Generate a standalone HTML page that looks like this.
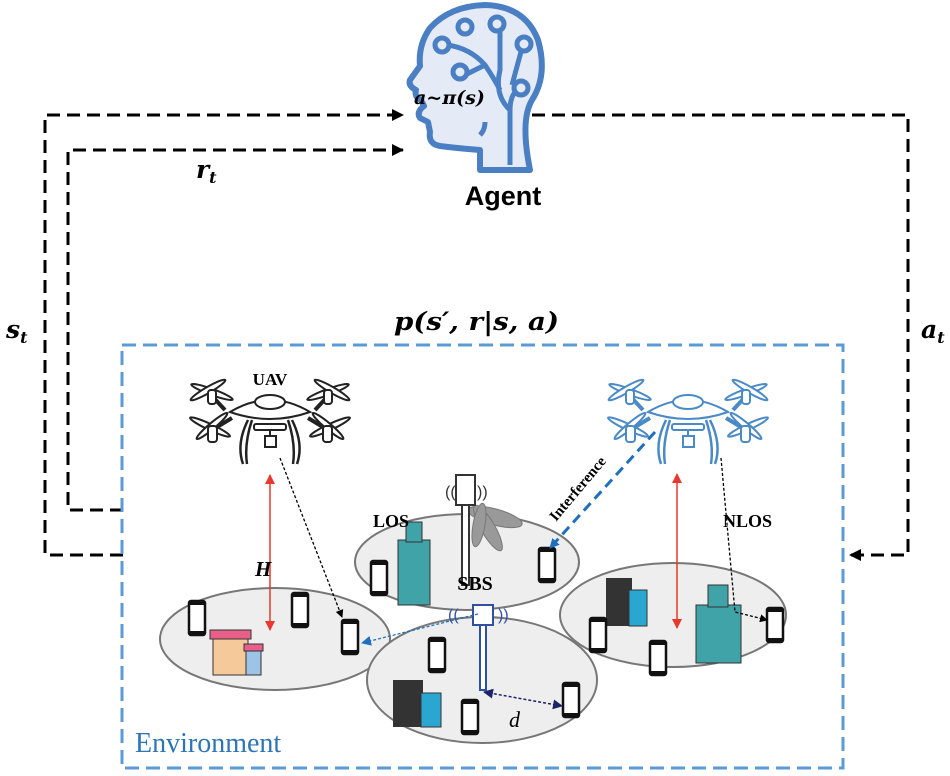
<!DOCTYPE html>
<html><head><meta charset="utf-8"><style>
body{margin:0;background:#fff;width:950px;height:776px;overflow:hidden}
svg{display:block}
.b{font-family:"Liberation Serif",serif;font-weight:bold}
.m{font-family:"DejaVu Serif","Liberation Serif",serif;font-style:italic;font-weight:bold}
</style></head><body>
<svg width="950" height="776" viewBox="0 0 950 776">
<defs>
<marker id="ak" markerWidth="8" markerHeight="8" refX="7" refY="4" orient="auto" markerUnits="userSpaceOnUse"><path d="M0,0 L8,4 L0,8z" fill="#000"/></marker>
<marker id="ak2" markerWidth="12" markerHeight="12" refX="11" refY="6" orient="auto" markerUnits="userSpaceOnUse"><path d="M0,0 L12,6 L0,12z" fill="#000"/></marker>
<marker id="ar" markerWidth="10" markerHeight="10" refX="9" refY="5" orient="auto-start-reverse" markerUnits="userSpaceOnUse"><path d="M0,0 L10,5 L0,10z" fill="#e8392c"/></marker>
<marker id="ab" markerWidth="10" markerHeight="10" refX="9" refY="5" orient="auto" markerUnits="userSpaceOnUse"><path d="M0,0 L10,5 L0,10z" fill="#1f6fbf"/></marker>
<marker id="an" markerWidth="10" markerHeight="10" refX="9" refY="5" orient="auto-start-reverse" markerUnits="userSpaceOnUse"><path d="M0,0 L10,5 L0,10z" fill="#1c2466"/></marker>
<g id="ph"><rect x="-8" y="-17" width="16" height="34" rx="2" fill="#fff" stroke="#111" stroke-width="2.5"/><rect x="-8" y="-17" width="16" height="4" fill="#111"/><rect x="-8" y="13" width="16" height="4" fill="#111"/></g>
<g id="drone" fill="#fff" stroke-width="2">
<path d="M-45,-2 L-58,-16 M45,-2 L58,-16 M-38,6 L-58,18 M38,6 L58,18" fill="none" stroke-width="4"/>
<path d="M-40,0 Q0,-24 40,0 Q0,14 -40,0z"/>
<ellipse cx="0" cy="-10" rx="15" ry="7"/>
<ellipse cx="-58" cy="-20" rx="22" ry="3" transform="rotate(20 -58 -20)"/><ellipse cx="58" cy="-20" rx="22" ry="3" transform="rotate(-20 58 -20)"/>
<ellipse cx="-62" cy="-22" rx="20" ry="3" transform="rotate(-30 -62 -22)"/><ellipse cx="62" cy="-22" rx="20" ry="3" transform="rotate(30 62 -22)"/>
<ellipse cx="-60" cy="15" rx="22" ry="3" transform="rotate(25 -60 15)"/><ellipse cx="60" cy="15" rx="22" ry="3" transform="rotate(-25 60 15)"/>
<ellipse cx="-58" cy="14" rx="20" ry="3" transform="rotate(-40 -58 14)"/><ellipse cx="58" cy="14" rx="20" ry="3" transform="rotate(40 58 14)"/>
<rect x="-62" y="-22" width="8" height="14" rx="3"/><rect x="54" y="-22" width="8" height="14" rx="3"/>
<rect x="-62" y="14" width="9" height="16" rx="3"/><rect x="53" y="14" width="9" height="16" rx="3"/>
<path d="M-22,8 Q-34,32 -27,52 M-18,8 Q-26,32 -23,52 M22,8 Q34,32 27,52 M18,8 Q26,32 23,52" fill="none" stroke-width="2.5"/>
<rect x="-16" y="12" width="32" height="6" rx="2"/>
<rect x="-5" y="24" width="11" height="11"/><line x1="0" y1="18" x2="0" y2="24"/></g>
</defs>

<g stroke="#000" stroke-width="3" fill="none" stroke-dasharray="13 7">
<path d="M123,555 H45 V115 H403" marker-end="url(#ak2)"/>
<path d="M123,510 H68 V150 H403" marker-end="url(#ak2)"/>
<path d="M532,115 H908 V555 H850" marker-end="url(#ak2)"/>
</g>

<!-- head -->
<g stroke="#4a7fc4" stroke-width="6" fill="#e4ebf7" stroke-linejoin="round">
<path d="M480,170 L480,150 Q455,148 440,146 Q428,144 430,132 L428,122 L420,118 Q416,112 424,106 L421,100 Q414,97 416,90 Q408,86 410,80 L420,66 Q418,45 430,28 Q450,6 485,5 Q525,6 538,40 Q548,75 532,100 Q520,120 530,170 Z"/>
</g>
<g stroke="#4a7fc4" stroke-width="5" fill="none">
<path d="M510,165 L510,110 Q510,92 522,87 M510,110 Q494,95 500,70 L500,30 M447,45 Q470,48 485,65 Q495,80 500,90 M465,75 L485,65 M522,48 L512,85"/>
<path d="M480,135 Q485,130 485,122"/>
</g>
<g stroke="#4a7fc4" stroke-width="5" fill="#e4ebf7">
<circle cx="442" cy="45" r="7"/><circle cx="465" cy="27" r="7"/><circle cx="497" cy="24" r="7"/><circle cx="524" cy="44" r="7"/><circle cx="460" cy="72" r="7"/><circle cx="521" cy="88" r="7"/>
</g>
<text x="414" y="104" class="m" font-size="19">a~π(s)</text>
<text x="503" y="205" text-anchor="middle" font-family="Liberation Sans,sans-serif" font-weight="bold" font-size="27">Agent</text>

<g class="m" font-size="25">
<text x="6" y="338">s<tspan font-size="16" dy="5">t</tspan></text>
<text x="196" y="178">r<tspan font-size="16" dy="5">t</tspan></text>
<text x="921" y="338">a<tspan font-size="16" dy="5">t</tspan></text>
<text x="394" y="330" textLength="165" lengthAdjust="spacingAndGlyphs">p(s′, r|s, a)</text>
</g>

<rect x="122" y="345" width="721" height="423" fill="none" stroke="#5b9bd5" stroke-width="3" stroke-dasharray="14 7"/>
<text x="135" y="752" font-family="Liberation Serif,serif" font-size="28" fill="#2e75b6">Environment</text>

<g fill="#eeeeee" stroke="#777" stroke-width="2">
<ellipse cx="275" cy="639" rx="115" ry="51"/>
<ellipse cx="467" cy="562" rx="112" ry="48"/>
<ellipse cx="482" cy="680" rx="115" ry="63"/>
<ellipse cx="673" cy="615" rx="113" ry="52"/>
</g>

<g>
<rect x="213" y="638" width="35" height="37" fill="#f5c99a" stroke="#333"/><rect x="210" y="630" width="41" height="9" fill="#e8608a" stroke="#333"/>
<rect x="246" y="650" width="15" height="25" fill="#9dc3e6" stroke="#333"/><rect x="244" y="644" width="19" height="7" fill="#e8608a" stroke="#333"/>
<rect x="398" y="540" width="32" height="65" fill="#3fa3a8" stroke="#333"/><rect x="406" y="522" width="16" height="20" fill="#3fa3a8" stroke="#333"/>
<rect x="393" y="680" width="30" height="47" fill="#333"/><rect x="421" y="693" width="20" height="34" fill="#2aa7d0" stroke="#333"/>
<rect x="606" y="578" width="26" height="48" fill="#333"/><rect x="629" y="590" width="18" height="36" fill="#2aa7d0" stroke="#333"/>
<rect x="696" y="605" width="45" height="58" fill="#3fa3a8" stroke="#333"/><rect x="708" y="585" width="20" height="22" fill="#3fa3a8" stroke="#333"/>
</g>

<use href="#ph" x="197" y="618"/><use href="#ph" x="300" y="610"/><use href="#ph" x="350" y="637"/>
<use href="#ph" x="379" y="578"/><use href="#ph" x="547" y="565"/><use href="#ph" x="437" y="655"/>
<use href="#ph" x="470" y="717"/><use href="#ph" x="571" y="700"/><use href="#ph" x="598" y="635"/>
<use href="#ph" x="658" y="658"/><use href="#ph" x="775" y="625"/>

<g fill="#999" stroke="#777"><ellipse cx="495" cy="517" rx="28" ry="8" transform="rotate(15 495 517)"/><ellipse cx="488" cy="528" rx="26" ry="7" transform="rotate(60 488 528)"/><ellipse cx="479" cy="525" rx="22" ry="6" transform="rotate(100 479 525)"/></g>
<g stroke="#333" stroke-width="2" fill="#fff"><rect x="462" y="505" width="7" height="80"/><rect x="456" y="475" width="19" height="30"/></g>
<text x="445" y="497" font-size="16" fill="#333" font-family="Liberation Sans">((</text><text x="477" y="497" font-size="16" fill="#333" font-family="Liberation Sans">))</text>
<g stroke="#3050a0" stroke-width="2" fill="#fff"><rect x="480" y="625" width="6" height="65"/><rect x="473" y="605" width="20" height="20"/></g>
<text x="448" y="620" font-size="16" fill="#3050a0" font-family="Liberation Sans">((</text><text x="498" y="620" font-size="16" fill="#3050a0" font-family="Liberation Sans">))</text>
<text x="475" y="590" text-anchor="middle" class="b" font-size="20">SBS</text>

<use href="#drone" x="270" y="412" stroke="#222"/>
<use href="#drone" x="688" y="412" stroke="#4a8ac6"/>
<text x="270" y="385" text-anchor="middle" class="b" font-size="17">UAV</text>

<line x1="270" y1="475" x2="270" y2="630" stroke="#e8392c" stroke-width="1.5" marker-start="url(#ar)" marker-end="url(#ar)"/>
<line x1="677" y1="474" x2="677" y2="628" stroke="#e8392c" stroke-width="1.5" marker-start="url(#ar)" marker-end="url(#ar)"/>
<line x1="280" y1="458" x2="342" y2="617" stroke="#000" stroke-width="1.3" stroke-dasharray="3 2" marker-end="url(#ak)"/>
<path d="M721,458 L735,612 L767,620" fill="none" stroke="#000" stroke-width="1.3" stroke-dasharray="3 2" marker-end="url(#ak)"/>
<line x1="655" y1="432" x2="550" y2="548" stroke="#1f6fbf" stroke-width="3" stroke-dasharray="10 6" marker-end="url(#ab)"/>
<line x1="478" y1="614" x2="362" y2="643" stroke="#1f6fbf" stroke-width="1.3" stroke-dasharray="3 2" marker-end="url(#ab)"/>
<line x1="484" y1="692" x2="562" y2="706" stroke="#1c2466" stroke-width="1.5" stroke-dasharray="3 2" marker-start="url(#an)" marker-end="url(#an)"/>
<text x="255" y="576" class="b" font-style="italic" font-size="21">H</text>
<text x="373" y="527" class="b" font-size="18">LOS</text>
<text x="723" y="527" class="b" font-size="18">NLOS</text>
<text x="556" y="522" class="b" font-size="15" transform="rotate(-50 556 522)">Interference</text>
<text x="509" y="727" font-family="Liberation Serif,serif" font-style="italic" font-size="22">d</text>
</svg>
</body></html>
